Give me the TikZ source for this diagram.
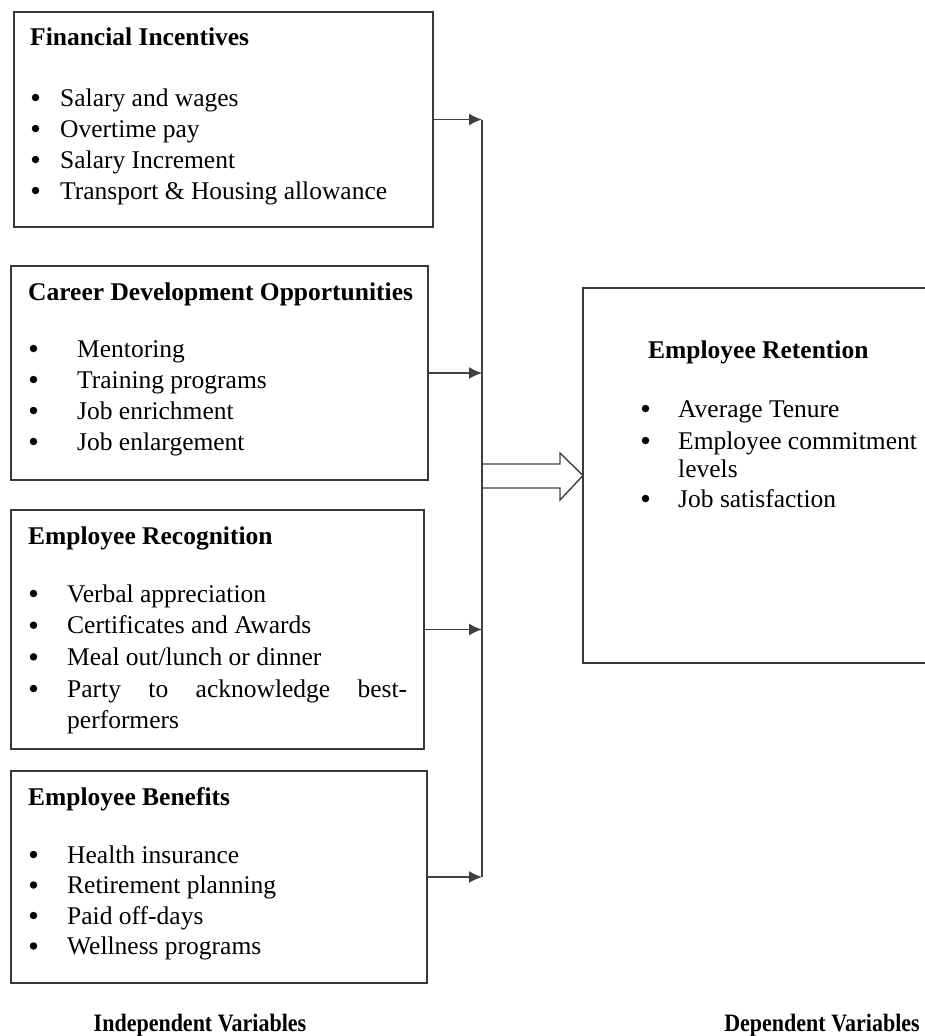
\documentclass[tikz,border=0pt]{standalone}
\usepackage{fontspec}
\setmainfont{Liberation Serif}
\usetikzlibrary{arrows.meta}

% bullet list: #1 name prefix, #2 bullet centre x, #3 text x, #4 first baseline, #5 line step, #6 items
\newcommand\bulletitems[6]{%
  \foreach \t [count=\i] in {#6} {%
    \pgfmathsetmacro\yy{#4+#5*(\i-1)}%
    \pgfmathsetmacro\yd{\yy-8.5}%
    \node[dot] (#1b\i) at (#2,\yd) {};
    \node[txt] (#1t\i) at (#3,\yy) {\t};
  }}

\begin{document}
\begin{tikzpicture}[x=1pt,y=-1pt,
  box/.style={draw=black!78, line width=1.6pt, anchor=north west,
    inner sep=0pt, outer sep=0pt},
  txt/.style={anchor=base west, inner sep=0pt, font=\fontsize{25.5}{31}\selectfont},
  hd/.style={txt, font=\fontsize{25.5}{31}\selectfont\bfseries},
  dot/.style={circle, fill=black, inner sep=0pt, minimum size=7.5pt},
  caption/.style={anchor=base, inner sep=0pt, xscale=0.88,
    font=\fontsize{25}{30}\selectfont\bfseries},
  wire/.style={draw=black!75, line width=1.4pt},
  feed/.style={wire, -{Latex[length=13pt,width=12pt]}},
]
\useasboundingbox (0,0) rectangle (925,1036);

% independent variable boxes
\node[box, minimum width=419pt, minimum height=215pt] (b1) at (14,12) {};
\node[box, minimum width=417pt, minimum height=214pt] (b2) at (11,266) {};
\node[box, minimum width=413pt, minimum height=239pt] (b3) at (11,510) {};
\node[box, minimum width=416pt, minimum height=212pt] (b4) at (11,771) {};

% dependent variable box (runs past the right edge)
\begin{scope}
  \clip (0,0) rectangle (925,1036);
  \node[box, minimum width=370pt, minimum height=375pt] (ret) at (583,288) {};
\end{scope}

% Financial Incentives
\node[hd] (h1) at (30,45) {Financial Incentives};
\bulletitems{f}{35.5}{60}{106}{31}{Salary and wages, Overtime pay, Salary Increment,
  {Transport \& Housing allowance}}

% Career Development Opportunities
\node[hd] (h2) at (28,300) {Career Development Opportunities};
\bulletitems{c}{33.5}{77}{357}{31}{Mentoring, Training programs, Job enrichment,
  Job enlargement}

% Employee Recognition
\node[hd] (h3) at (28,544) {Employee Recognition};
\bulletitems{r}{33.5}{67}{602}{31.7}{Verbal appreciation, Certificates and Awards,
  Meal out/lunch or dinner}
\node[dot] (rb4) at (33.5,688.5) {};
\node[txt] (rt4) at (67,697) {\makebox[340pt][s]{Party to acknowledge best-}};
\node[txt] (rt5) at (67,728.8) {performers};

% Employee Benefits
\node[hd] (h4) at (28,805) {Employee Benefits};
\bulletitems{e}{33.5}{67}{863}{30.5}{Health insurance, Retirement planning,
  Paid off-days, Wellness programs}

% Employee Retention
\node[hd] (h5) at (648,358) {Employee Retention};
\node[dot] (kb1) at (645.5,408.5) {};
\node[txt] (kt1) at (678,417) {Average Tenure};
\node[dot] (kb2) at (645.5,440.5) {};
\node[txt] (kt2) at (678,449) {Employee commitment};
\node[txt] (kt3) at (678,477) {levels};
\node[dot] (kb3) at (645.5,498.5) {};
\node[txt] (kt4) at (678,507) {Job satisfaction};

% collecting line and feeder arrows
\path (b1.east) ++(49,0) coordinate (bustop);
\coordinate (busbot) at (b4.east -| bustop);
\draw[wire] (bustop) -- (busbot);
\draw[feed] (b1.east) -- (bustop);
\draw[feed] (b2.east) -- (b2.east -| bustop);
\draw[feed] (b3.east) -- (b3.east -| bustop);
\draw[feed] (b4.east) -- (busbot);

% hollow block arrow into the retention box
\draw[wire, line join=miter] (bustop |- 0,464) -- (560,464) -- (560,453) -- (ret.west)
  -- (560,500) -- (560,488) -- (bustop |- 0,488);

% captions
\node[caption] (ind) at (200,1031) {Independent Variables};
\node[caption] (dep) at (822,1031) {Dependent Variables};
\end{tikzpicture}
\end{document}
